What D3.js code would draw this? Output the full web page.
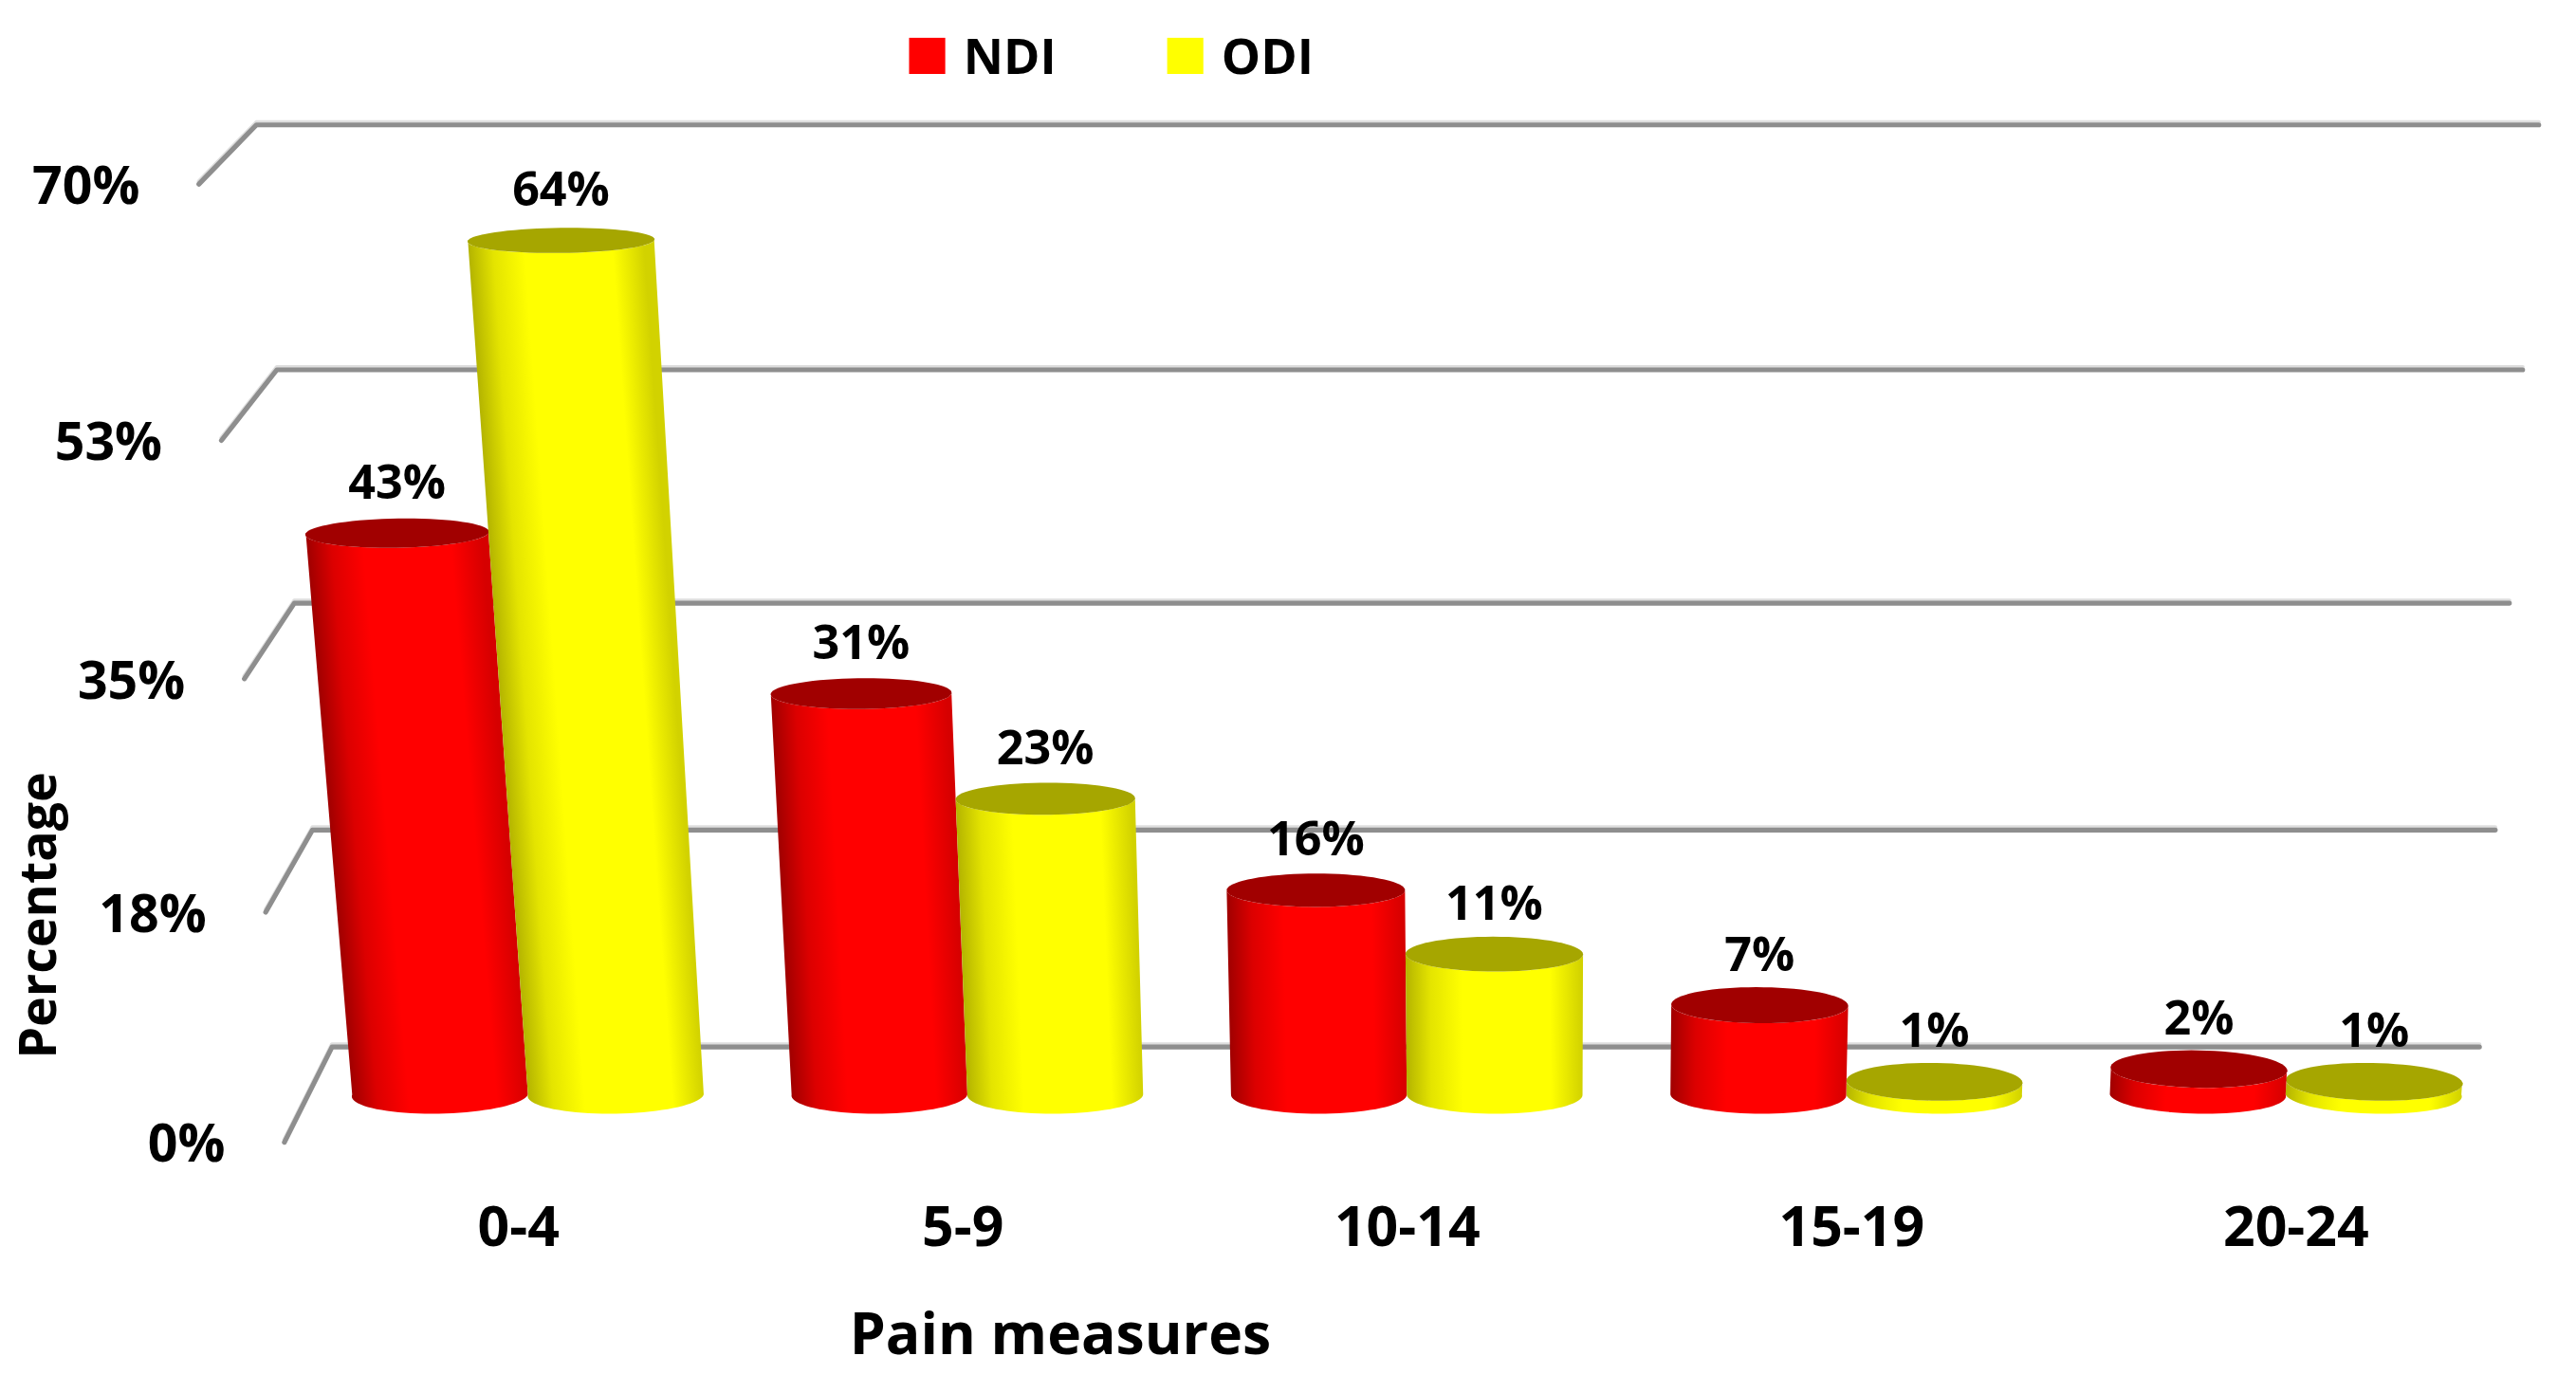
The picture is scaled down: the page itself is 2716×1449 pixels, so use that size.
<!DOCTYPE html>
<html>
<head>
<meta charset="utf-8">
<script src="https://cdn.jsdelivr.net/npm/d3@7"></script>
<style>
  body { margin: 0; background: #fff; }
  text { font-family: "Open Sans", "Noto Sans", sans-serif; font-weight: bold; fill: #000; }
</style>
</head>
<body>
<div id="chart"></div>
<script>
// chart values
var categories = ["0-4", "5-9", "10-14", "15-19", "20-24"];
var seriesNames = ["NDI", "ODI"];
var ndiValues = [43, 31, 16, 7, 2];
var odiValues = [64, 23, 11, 1, 1];
var yTickValues = [0, 17.5, 35, 52.5, 70];
var yTickLabels = ["0%", "18%", "35%", "53%", "70%"];

var svgWidth = 2716;
var svgHeight = 1449;
// drawing units: the picture is laid out on a 1567 x 836 grid
var viewW = 1567, viewH = 836;

var svg = d3.select("#chart")
  .append("svg")
  .attr("width", svgWidth)
  .attr("height", svgHeight)
  .attr("viewBox", `0 0 ${viewW} ${viewH}`);

var defs = svg.append("defs");

// value -> screen y on the front and back edge of the (perspective) floor
var yFront = d3.scaleLinear().domain(yTickValues).range([695, 555, 413, 268, 112]);
var yBack = d3.scaleLinear().domain(yTickValues).range([637, 505, 367, 225, 76]);

var wallLeft = 187.5, wallRight = 1524;
var xScale = d3.scaleBand().domain(categories).range([wallLeft, wallRight]);
var xSub = d3.scaleBand().domain(seriesNames).range([0, xScale.bandwidth()]).paddingOuter(0.25);

// vanishing points of the vertical and depth directions
var vpV = { x: 932, y: 9356 };
var vpD = { x: 828, y: -616 };

function yAt(v, d) {
  return yFront(v) + d * (yBack(v) - yFront(v));
}
var floorMid = yAt(0, 0.5);

function project(xb, v, d) {
  var ym = yAt(v, 0.5);
  var x1 = vpV.x + (xb - vpV.x) * (vpV.y - ym) / (vpV.y - floorMid);
  var y = yAt(v, d);
  var x = vpD.x + (x1 - vpD.x) * (y - vpD.y) / (ym - vpD.y);
  return [x, y];
}

// gridlines (side wall + back wall)
var gridG = svg.append("g");
yTickValues.forEach(function(v) {
  var p0 = project(wallLeft, v, 0), p1 = project(wallLeft, v, 1), p2 = project(wallRight, v, 1);
  var dStr = `M${p0[0]},${p0[1]}L${p1[0]},${p1[1]}L${p2[0]},${p2[1]}`;
  gridG.append("path").attr("d", dStr).attr("transform", "translate(0,-1.6)")
    .attr("fill", "none").attr("stroke", "#dedede").attr("stroke-width", 2.5)
    .attr("stroke-linecap", "round").attr("stroke-linejoin", "round");
  gridG.append("path").attr("d", dStr)
    .attr("fill", "none").attr("stroke", "#8e8e8e").attr("stroke-width", 3)
    .attr("stroke-linecap", "round").attr("stroke-linejoin", "round");
});

// y tick labels
svg.append("g").selectAll("text").data(yTickValues).enter().append("text")
  .attr("x", d => project(wallLeft, d, 0)[0] - 36)
  .attr("y", d => project(wallLeft, d, 0)[1] + 12)
  .attr("text-anchor", "end")
  .style("font-size", "32px")
  .text((d, i) => yTickLabels[i]);

// bars
var colors = {
  NDI: { top: "#a10000", stops: [[0, "#a00000"], [0.14, "#dc0000"], [0.32, "#ff0000"], [0.82, "#ff0000"], [1, "#d60000"]] },
  ODI: { top: "#a6a600", stops: [[0, "#b4b400"], [0.14, "#e4e400"], [0.32, "#ffff00"], [0.82, "#ffff00"], [1, "#d2d200"]] }
};

var radius = xSub.bandwidth() / 2;
var depthHalf = 0.2;

var bars = [];
categories.forEach(function(cat, i) {
  var pair = [
    { cat: cat, series: "NDI", value: ndiValues[i] },
    { cat: cat, series: "ODI", value: odiValues[i] }
  ];
  pair.forEach(function(b) { b.xc = xScale(cat) + xSub(b.series) + radius; });
  if (xScale(cat) + xScale.bandwidth() / 2 > vpV.x) pair.reverse();
  bars = bars.concat(pair);
});

function ellipseAt(xc, v) {
  var c = project(xc, v, 0.5);
  var L = project(xc - radius, v, 0.5), R = project(xc + radius, v, 0.5);
  var F = project(xc, v, 0.5 - depthHalf), B = project(xc, v, 0.5 + depthHalf);
  return { c: c, a: [(R[0] - L[0]) / 2, (R[1] - L[1]) / 2], b: [(F[0] - B[0]) / 2, (F[1] - B[1]) / 2] };
}
function pt(e, t) {
  return [e.c[0] + e.a[0] * Math.cos(t) + e.b[0] * Math.sin(t), e.c[1] + e.a[1] * Math.cos(t) + e.b[1] * Math.sin(t)];
}

var barG = svg.append("g");
var line = d3.line();
bars.forEach(function(b, k) {
  var bot = ellipseAt(b.xc, 0);
  var top = ellipseAt(b.xc, b.value);
  var pts = [];
  var n = 40;
  pts.push(pt(top, Math.PI));
  for (var j = 0; j <= n; j++) pts.push(pt(bot, Math.PI - Math.PI * j / n));
  for (var j = 0; j <= n; j++) pts.push(pt(top, Math.PI * j / n));

  // gradient across the (leaning) body
  var BL = pt(bot, Math.PI), BR = pt(bot, 0), TL = pt(top, Math.PI);
  var ex = TL[0] - BL[0], ey = TL[1] - BL[1];
  var len = Math.sqrt(ex * ex + ey * ey) || 1;
  var nx = -ey / len, ny = ex / len;
  if (nx < 0) { nx = -nx; ny = -ny; }
  var w = (BR[0] - BL[0]) * nx + (BR[1] - BL[1]) * ny;
  var gid = "grad" + k;
  var grad = defs.append("linearGradient").attr("id", gid)
    .attr("gradientUnits", "userSpaceOnUse")
    .attr("x1", BL[0]).attr("y1", BL[1])
    .attr("x2", BL[0] + nx * w).attr("y2", BL[1] + ny * w);
  colors[b.series].stops.forEach(function(s) {
    grad.append("stop").attr("offset", s[0]).attr("stop-color", s[1]);
  });

  barG.append("path").attr("d", line(pts) + "Z").attr("fill", `url(#${gid})`);

  var topPts = d3.range(0, 73).map(j => pt(top, 2 * Math.PI * j / 72));
  barG.append("path").attr("d", line(topPts) + "Z").attr("fill", colors[b.series].top);

  b.labelX = top.c[0];
  b.labelY = top.c[1];
});

// data labels
svg.append("g").selectAll("text").data(bars).enter().append("text")
  .attr("x", d => d.labelX)
  .attr("y", d => d.labelY - 21)
  .attr("text-anchor", "middle")
  .style("font-size", "29px")
  .text(d => d.value + "%");

// category labels
svg.append("g").selectAll("text").data(categories).enter().append("text")
  .attr("x", d => project(xScale(d) + xScale.bandwidth() / 2, 0, 0.25)[0])
  .attr("y", 758)
  .attr("text-anchor", "middle")
  .style("font-size", "34px")
  .text(d => d);

// axis titles
svg.append("text")
  .attr("x", 645)
  .attr("y", 824)
  .attr("text-anchor", "middle")
  .style("font-size", "35px")
  .text("Pain measures");

svg.append("text")
  .attr("transform", "translate(34, 557) rotate(-90)")
  .attr("text-anchor", "middle")
  .style("font-size", "31px")
  .text("Percentage");

// legend
var legendX = [553, 710];
var legend = svg.append("g").selectAll("g").data(seriesNames).enter().append("g")
  .attr("transform", (d, i) => `translate(${legendX[i]}, 23)`);
legend.append("rect").attr("width", 22).attr("height", 22)
  .attr("fill", d => d === "NDI" ? "#ff0000" : "#ffff00");
legend.append("text").attr("x", 33).attr("y", 22)
  .style("font-size", "30px")
  .text(d => d);
</script>
</body>
</html>
